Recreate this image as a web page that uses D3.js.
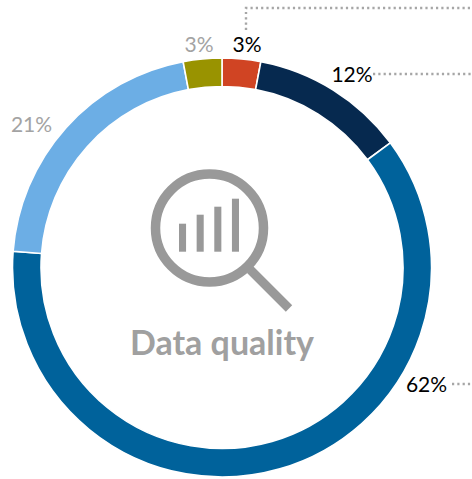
<!DOCTYPE html>
<html>
<head>
<meta charset="utf-8">
<script src="https://cdn.jsdelivr.net/npm/d3@7"></script>
<style>
    html, body { margin: 0; padding: 0; background: #fff; }
    svg { display: block; }
    text { font-family: Lato, "Open Sans", sans-serif; }
</style>
</head>
<body>
<svg width="472" height="479"></svg>
<script>
// clockwise from 12 o'clock
const segments = ['red', 'navy', 'blue', 'light blue', 'olive'];
const shares = [3, 12, 62, 21, 3];
const segmentColors = ['#d04423', '#06294f', '#00629b', '#6caee5', '#999300'];
const labelColors = ['#000', '#000', '#000', '#a3a3a3', '#a3a3a3'];
const iconBars = [1, 2, 3, 4];
const iconBarHeights = [28, 37, 45, 53];
const title = 'Data quality';

const svg = d3.select('svg');
const cx = 222, cy = 267.5;
const outerRadius = 209.5, innerRadius = 181;

const pie = d3.pie().sort(null).value(d => d.share);
const arc = d3.arc().innerRadius(innerRadius).outerRadius(outerRadius);
const data = segments.map((name, i) => ({name, share: shares[i], color: segmentColors[i], labelColor: labelColors[i]}));

svg.append('g')
    .attr('transform', `translate(${cx},${cy})`)
    .selectAll('path')
    .data(pie(data))
    .enter().append('path')
    .attr('d', arc)
    .attr('fill', d => d.data.color)
    .attr('stroke', '#fff')
    .attr('stroke-width', 1.6);

// labels sit by hand around the ring, same as the leader lines
const labelPos = [[247, 52], [352, 82], [426.5, 392], [31.5, 132], [199, 52]];
svg.append('g')
    .selectAll('text')
    .data(data)
    .enter().append('text')
    .attr('x', (d, i) => labelPos[i][0])
    .attr('y', (d, i) => labelPos[i][1])
    .attr('text-anchor', 'middle')
    .attr('font-size', 21)
    .attr('fill', d => d.labelColor)
    .text(d => d.share + '%');

const leaders = [
    [[246, 30], [246, 8], [472, 8]],
    [[373, 74], [472, 74]],
    [[452, 384], [472, 384]]
];
svg.append('g')
    .selectAll('path')
    .data(leaders)
    .enter().append('path')
    .attr('d', d3.line())
    .attr('fill', 'none')
    .attr('stroke', '#a6a6a6')
    .attr('stroke-width', 2.4)
    .attr('stroke-dasharray', '2.2 3.1');

// magnifying glass
const icon = svg.append('g');
icon.append('circle')
    .attr('cx', 209.5)
    .attr('cy', 228)
    .attr('r', 54)
    .attr('fill', 'none')
    .attr('stroke', '#999')
    .attr('stroke-width', 9.5);
icon.append('line')
    .attr('x1', 250)
    .attr('y1', 269.5)
    .attr('x2', 289)
    .attr('y2', 308.5)
    .attr('stroke', '#999')
    .attr('stroke-width', 9);

const barX = d3.scaleBand().domain(iconBars).range([179, 239]).paddingInner(0.6);
const barY = d3.scaleLinear().domain([0, 53]).range([251.7, 198.7]);
icon.selectAll('rect')
    .data(iconBars)
    .enter().append('rect')
    .attr('x', d => barX(d))
    .attr('width', barX.bandwidth())
    .attr('y', (d, i) => barY(iconBarHeights[i]))
    .attr('height', (d, i) => barY(0) - barY(iconBarHeights[i]))
    .attr('fill', '#999');

svg.append('text')
    .attr('x', 222)
    .attr('y', 355)
    .attr('text-anchor', 'middle')
    .attr('font-size', 34)
    .attr('font-weight', 700)
    .attr('fill', '#a0a0a0')
    .text(title);
</script>
</body>
</html>
